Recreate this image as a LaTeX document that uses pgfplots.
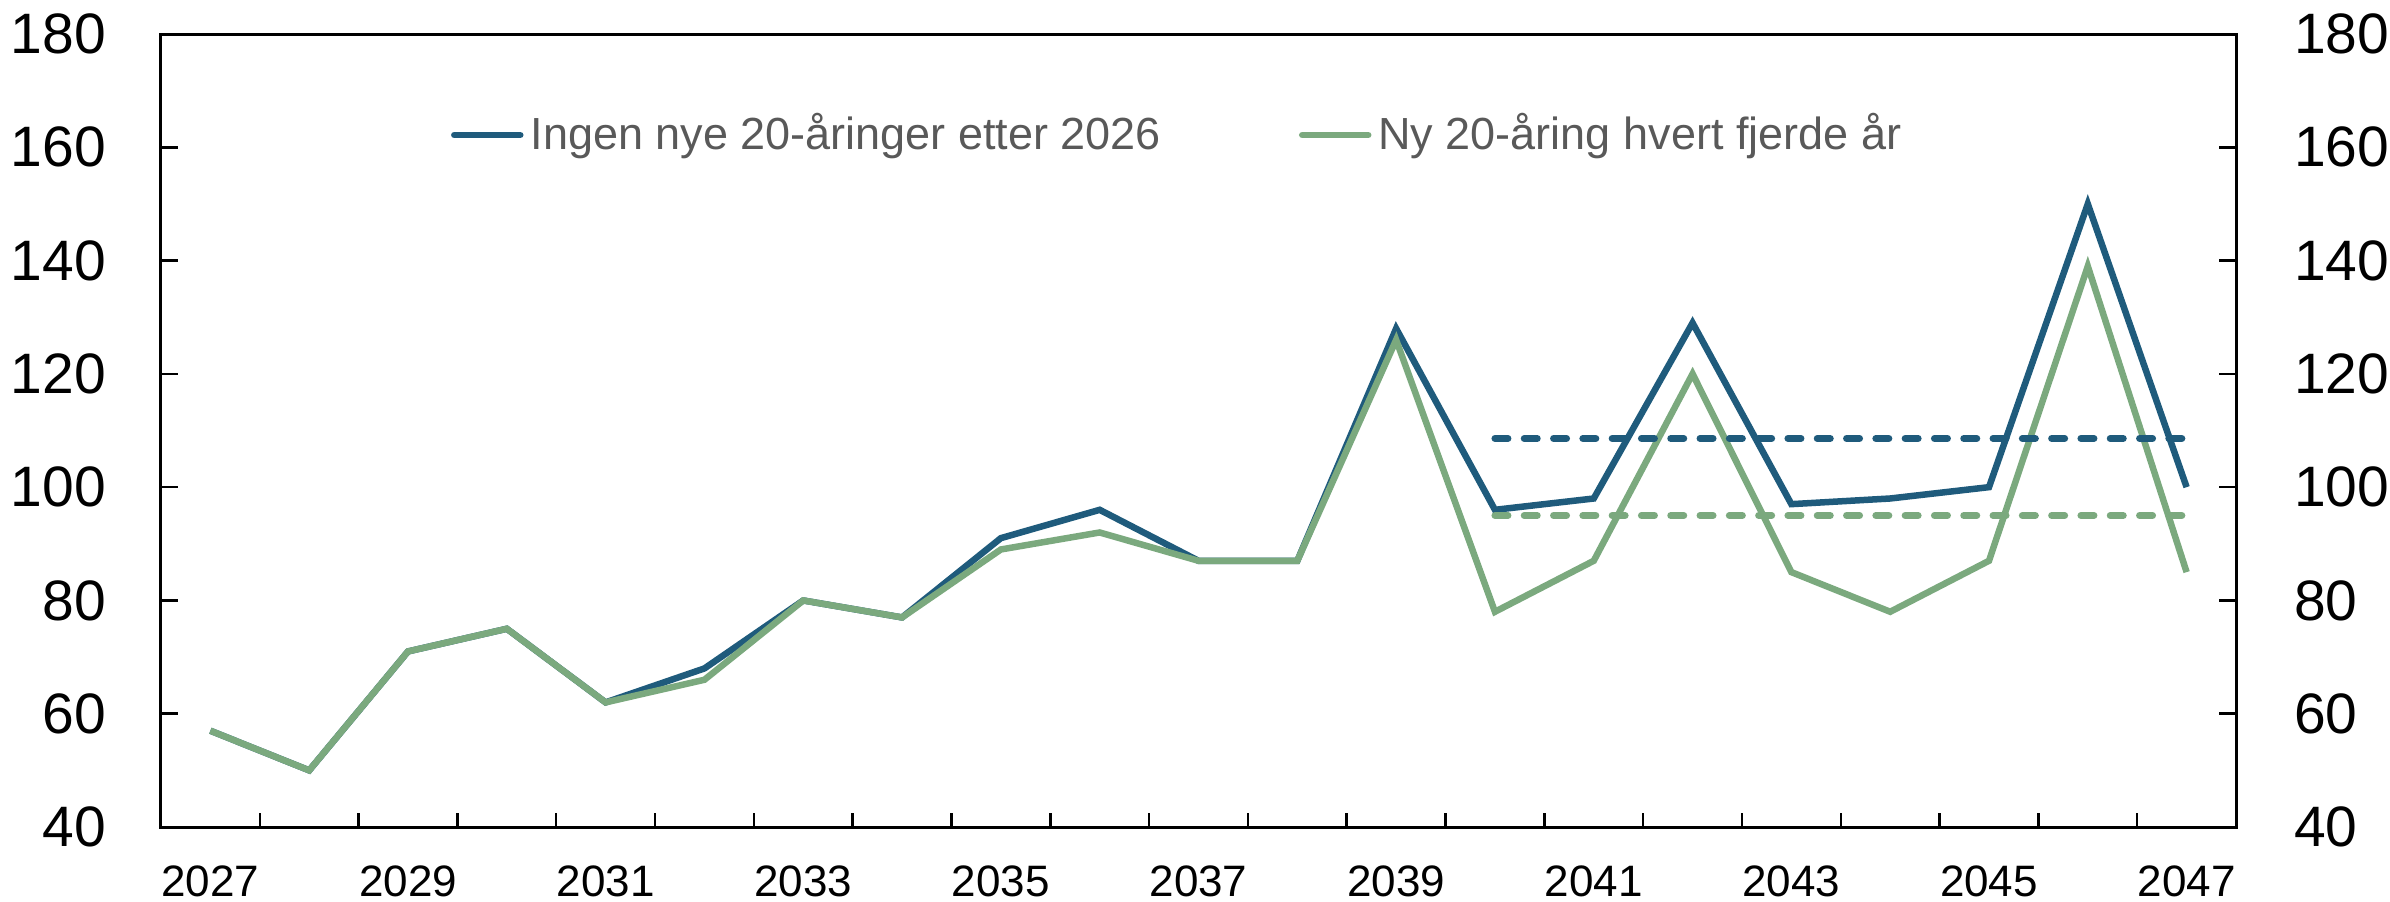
\documentclass[border=0pt]{standalone}
\usepackage{pgfplots}
\pgfplotsset{compat=1.18}
\usepackage{fontspec}
\setmainfont{Liberation Sans}
\definecolor{cblue}{HTML}{1F5B7C}
\definecolor{cgreen}{HTML}{7BA97E}
\definecolor{cgray}{HTML}{595959}
\begin{document}
\begin{tikzpicture}
\useasboundingbox (-32.2pt,-14.8pt) rectangle (445.8pt,165.4pt);
\begin{axis}[
  at={(0,0)}, anchor=south west,
  scale only axis, width=415pt, height=158.6pt,
  xmin=2026.5, xmax=2047.5, ymin=40, ymax=180,
  axis line style={line width=0.6pt, black},
  every tick/.style={black, line width=0.5pt},
  tick align=inside,
  xtick={2027,2029,...,2047},
  xtick pos=left,
  major x tick style={draw=none},
  minor xtick={2027.5,2028.5,2029.5,2030.5,2031.5,2032.5,2033.5,2034.5,2035.5,2036.5,2037.5,2038.5,2039.5,2040.5,2041.5,2042.5,2043.5,2044.5,2045.5,2046.5},
  minor tick length=2.8pt,
  major tick length=3.4pt,
  ytick={40,60,...,180},
  ytick pos=both,
  yticklabel pos=left,
  /pgf/number format/assume math mode=true,
  /pgf/number format/1000 sep={},
  xticklabel style={font=\fontsize{8.8}{10}\selectfont, inner ysep=0pt, anchor=north, yshift=-7.6pt},
  yticklabel style={font=\fontsize{11.4}{13}\selectfont, inner xsep=0pt, anchor=east, xshift=-10.8pt},
  legend columns=2,
  legend cell align=left,
  legend style={at={(rel axis cs:0.1393,0.8726)}, anchor=west, draw=none, fill=none,
    inner sep=0pt, text=cgray, font=\fontsize{9}{11}\selectfont,
    nodes={inner sep=0pt},
    /tikz/every odd column/.append style={column sep=1.4pt},
    /tikz/every even column/.append style={column sep=27.6pt}},
  legend image code/.code={\draw[#1, line cap=round] (0pt,0pt) -- (13.2pt,0pt);},
]
\addplot[cblue, line width=1.3pt] coordinates {
(2027,57) (2028,50) (2029,71) (2030,75) (2031,62) (2032,68) (2033,80) (2034,77)
(2035,91) (2036,96) (2037,87) (2038,87) (2039,128) (2040,96) (2041,98) (2042,129)
(2043,97) (2044,98) (2045,100) (2046,150) (2047,100)};
\addlegendentry{Ingen nye 20-åringer etter 2026}
\addplot[cgreen, line width=1.3pt] coordinates {
(2027,57) (2028,50) (2029,71) (2030,75) (2031,62) (2032,66) (2033,80) (2034,77)
(2035,89) (2036,92) (2037,87) (2038,87) (2039,126) (2040,78) (2041,87) (2042,120)
(2043,85) (2044,78) (2045,87) (2046,139) (2047,85)};
\addlegendentry{Ny 20-åring hvert fjerde år}
\addplot[forget plot, cblue, line width=1.4pt, line cap=round, dash pattern=on 2.6pt off 3.26pt] coordinates {(2040,108.6) (2047,108.6)};
\addplot[forget plot, cgreen, line width=1.4pt, line cap=round, dash pattern=on 2.6pt off 3.26pt] coordinates {(2040,95) (2047,95)};
\end{axis}
\begin{axis}[
  at={(0,0)}, anchor=south west,
  scale only axis, width=415pt, height=158.6pt,
  xmin=2026.5, xmax=2047.5, ymin=40, ymax=180,
  axis x line=none,
  axis y line*=right,
  y axis line style={draw=none},
  ytick={40,60,...,180},
  major y tick style={draw=none},
  /pgf/number format/assume math mode=true,
  yticklabel style={font=\fontsize{11.4}{13}\selectfont, inner xsep=0pt, anchor=west, xshift=11.4pt},
]
\end{axis}
\end{tikzpicture}
\end{document}
